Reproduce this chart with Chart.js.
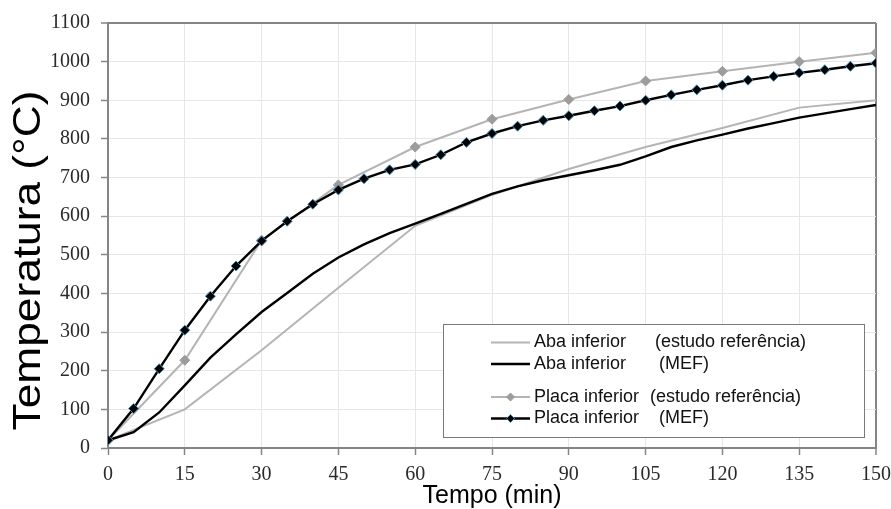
<!DOCTYPE html>
<html lang="pt">
<head>
<meta charset="utf-8">
<title>Temperatura x Tempo</title>
<script src="https://cdn.jsdelivr.net/npm/chart.js@4.4.1/dist/chart.umd.min.js"></script>
<style>
  html, body { margin: 0; padding: 0; background: #ffffff; }
  #wrap { width: 891px; height: 509px; position: relative; }
</style>
</head>
<body>
<div id="wrap"><canvas id="chart" width="891" height="509"></canvas></div>
<script>
// Time axis (min) and temperatures (°C)
const xTitle = 'Tempo (min)';
const yTitle = 'Temperatura (°C)';

const seriesNames = ['Aba inferior', 'Aba inferior', 'Placa inferior', 'Placa inferior'];
const seriesNotes = ['(estudo referência)', '(MEF)', '(estudo referência)', '(MEF)'];

// Aba inferior — estudo referência
const abaRefTime = [0, 15, 30, 45, 60, 75, 90, 105, 120, 135, 150];
const abaRefTemp = [20, 100, 253, 415, 575, 655, 722, 779, 828, 881, 900];

// Aba inferior — MEF (every 5 min)
const abaMefTime = [0, 5, 10, 15, 20, 25, 30, 35, 40, 45, 50, 55, 60, 65, 70, 75, 80, 85, 90, 95, 100, 105, 110, 115, 120, 125, 130, 135, 140, 145, 150];
const abaMefTemp = [20, 41, 92, 162, 234, 294, 352, 401, 451, 493, 527, 556, 581, 606, 632, 658, 677, 693, 706, 719, 733, 755, 779, 796, 811, 827, 841, 855, 866, 877, 888];

// Placa inferior — estudo referência
const placaRefTime = [0, 15, 30, 45, 60, 75, 90, 105, 120, 135, 150];
const placaRefTemp = [20, 227, 538, 681, 779, 851, 902, 950, 975, 1000, 1023];

// Placa inferior — MEF (every 5 min)
const placaMefTime = [0, 5, 10, 15, 20, 25, 30, 35, 40, 45, 50, 55, 60, 65, 70, 75, 80, 85, 90, 95, 100, 105, 110, 115, 120, 125, 130, 135, 140, 145, 150];
const placaMefTemp = [20, 102, 205, 305, 393, 471, 536, 587, 631, 668, 697, 720, 734, 759, 791, 814, 833, 848, 860, 873, 885, 900, 914, 927, 939, 952, 962, 971, 979, 988, 996];

// Axis ranges
const xMin = 0, xMax = 150, xStep = 15;
const yMin = 0, yMax = 1100, yStep = 100;

const pairs = (xs, ys) => xs.map((x, i) => ({ x: x, y: ys[i] }));

const GRAY_LINE = '#b4b4b4';
const GRAY_MARK = '#9c9c9c';
const BLACK = '#000000';
const FRAME = '#858585';
const GRID = '#e6e6e6';

const datasets = [
  {
    label: seriesNames[0] + ' ' + seriesNotes[0],
    data: pairs(abaRefTime, abaRefTemp),
    borderColor: GRAY_LINE, borderWidth: 2,
    pointRadius: 0, order: 3
  },
  {
    label: seriesNames[1] + ' ' + seriesNotes[1],
    data: pairs(abaMefTime, abaMefTemp),
    borderColor: BLACK, borderWidth: 2.4,
    pointRadius: 0, order: 2
  },
  {
    label: seriesNames[2] + ' ' + seriesNotes[2],
    data: pairs(placaRefTime, placaRefTemp),
    borderColor: GRAY_LINE, borderWidth: 2,
    pointStyle: 'rectRot', pointRadius: 5,
    pointBackgroundColor: GRAY_MARK, pointBorderColor: GRAY_MARK, pointBorderWidth: 1,
    order: 1
  },
  {
    label: seriesNames[3] + ' ' + seriesNotes[3],
    data: pairs(placaMefTime, placaMefTemp),
    borderColor: BLACK, borderWidth: 2.4,
    pointStyle: 'rectRot', pointRadius: 5,
    pointBackgroundColor: BLACK, pointBorderColor: '#3f8db3', pointBorderWidth: 1,
    order: 0
  }
];

// Boxed legend drawn inside the plot, two text columns per row
const boxLegend = {
  id: 'boxLegend',
  afterDraw(chart, args, opts) {
    const ctx = chart.ctx;
    ctx.save();
    ctx.fillStyle = '#ffffff';
    ctx.fillRect(opts.x, opts.y, opts.w, opts.h);
    ctx.strokeStyle = '#7a7a7a';
    ctx.lineWidth = 1;
    ctx.strokeRect(opts.x + 0.5, opts.y + 0.5, opts.w, opts.h);
    ctx.font = opts.font;
    ctx.textBaseline = 'middle';
    ctx.textAlign = 'left';
    chart.data.datasets.forEach((ds, i) => {
      const y = opts.rows[i];
      ctx.strokeStyle = ds.borderColor;
      ctx.lineWidth = ds.borderWidth;
      ctx.beginPath();
      ctx.moveTo(opts.lineX0, y);
      ctx.lineTo(opts.lineX1, y);
      ctx.stroke();
      if (ds.pointRadius > 0) {
        const mx = (opts.lineX0 + opts.lineX1) / 2;
        const r = 4;
        ctx.beginPath();
        ctx.moveTo(mx, y - r);
        ctx.lineTo(mx + r, y);
        ctx.lineTo(mx, y + r);
        ctx.lineTo(mx - r, y);
        ctx.closePath();
        ctx.fillStyle = ds.pointBackgroundColor;
        ctx.fill();
        ctx.strokeStyle = ds.pointBorderColor;
        ctx.lineWidth = 1;
        ctx.stroke();
      }
      ctx.fillStyle = '#111111';
      ctx.fillText(seriesNames[i], opts.nameX, y);
      ctx.fillText(seriesNotes[i], opts.noteX[i], y);
    });
    ctx.restore();
  }
};

// Vertical axis caption, widened along the reading direction
const yCaption = {
  id: 'yCaption',
  afterDraw(chart, args, opts) {
    const ctx = chart.ctx;
    ctx.save();
    ctx.translate(opts.x, opts.y);
    ctx.rotate(-Math.PI / 2);
    ctx.scale(opts.stretch, 1);
    ctx.font = opts.font;
    ctx.fillStyle = '#000000';
    ctx.textAlign = 'center';
    ctx.textBaseline = 'middle';
    ctx.fillText(yTitle, 0, 0);
    ctx.restore();
  }
};

const tickFont = { family: '"Liberation Serif", "Times New Roman", serif', size: 20 };

new Chart(document.getElementById('chart'), {
  type: 'line',
  data: { datasets: datasets },
  options: {
    responsive: false,
    animation: false,
    devicePixelRatio: 1,
    events: [],
    layout: { padding: { top: 23, right: 15, bottom: 0, left: 0 } },
    elements: { line: { tension: 0, fill: false } },
    plugins: {
      legend: { display: false },
      tooltip: { enabled: false },
      boxLegend: {
        x: 443, y: 324, w: 421, h: 113,
        lineX0: 491, lineX1: 530,
        nameX: 534, noteX: [655, 659, 650, 659],
        rows: [342.5, 364, 397, 418.5],
        font: '18px "Liberation Sans", Arial, sans-serif'
      },
      yCaption: {
        x: 29.5, y: 260.5, stretch: 1.135,
        font: '39px "Liberation Sans", Arial, sans-serif'
      }
    },
    scales: {
      x: {
        type: 'linear',
        min: xMin, max: xMax,
        afterFit: s => { s.height = 61; s.paddingLeft = 0; s.paddingRight = 0; },
        ticks: {
          stepSize: xStep, color: '#2a2a2a', font: tickFont, padding: 8, maxRotation: 0,
          callback: v => String(v)
        },
        grid: {
          color: c => (c.tick && c.tick.value === xMax) ? FRAME : GRID,
          lineWidth: c => (c.tick && c.tick.value === xMax) ? 2 : 1,
          tickColor: FRAME, tickLength: 7, tickWidth: 1.5
        },
        border: { color: FRAME, width: 2 },
        title: {
          display: true, text: xTitle, color: '#000000',
          font: { family: '"Liberation Sans", Arial, sans-serif', size: 25, lineHeight: 1 },
          padding: { top: 0, bottom: 0 }
        }
      },
      y: {
        min: yMin, max: yMax,
        afterFit: s => { s.width = 108; s.paddingTop = 0; s.paddingBottom = 0; },
        ticks: {
          stepSize: yStep, color: '#2a2a2a', font: tickFont, padding: 11,
          callback: v => String(v)
        },
        grid: {
          color: c => (c.tick && c.tick.value === yMax) ? FRAME : GRID,
          lineWidth: c => (c.tick && c.tick.value === yMax) ? 2 : 1,
          tickColor: FRAME, tickLength: 7, tickWidth: 1.5
        },
        border: { color: FRAME, width: 2 },
        title: { display: false }
      }
    }
  },
  plugins: [boxLegend, yCaption]
});
</script>
</body>
</html>
